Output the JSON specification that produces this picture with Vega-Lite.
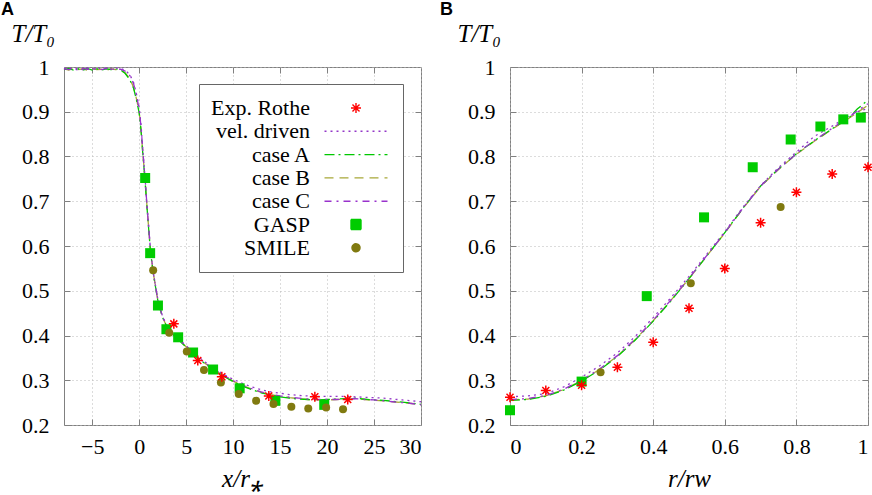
{
  "$schema": "https://vega.github.io/schema/vega-lite/v6.json",
  "background": "white",
  "padding": {"left": 0, "top": 0, "right": 4, "bottom": 0},
  "spacing": 14,
  "config": {
    "view": {"stroke": "#808080", "strokeWidth": 1},
    "axis": {
      "labelFont": "Liberation Serif", "labelFontSize": 22, "labelColor": "black",
      "titleFont": "Liberation Serif", "titleFontSize": 25, "titleFontStyle": "italic",
      "titleFontWeight": "normal", "titleColor": "black",
      "gridColor": "#b8b8b8", "gridDash": [1, 3], "gridWidth": 1,
      "tickColor": "#808080", "tickSize": -6, "domain": false
    },
    "title": {"font": "Liberation Sans", "fontSize": 18, "fontWeight": "bold", "color": "black", "anchor": "start", "frame": "group"}
  },
  "datasets": {
    "leftLines": [
      {"series": "case B", "x": -8, "y": 0.996}, {"series": "case B", "x": -7.5, "y": 0.993}, {"series": "case B", "x": -7, "y": 0.997},
      {"series": "case B", "x": -6.5, "y": 0.994}, {"series": "case B", "x": -6, "y": 0.996}, {"series": "case B", "x": -5.5, "y": 0.993},
      {"series": "case B", "x": -5, "y": 0.996}, {"series": "case B", "x": -4.5, "y": 0.994}, {"series": "case B", "x": -4, "y": 0.995},
      {"series": "case B", "x": -3.5, "y": 0.993}, {"series": "case B", "x": -3, "y": 0.996}, {"series": "case B", "x": -2.5, "y": 0.994},
      {"series": "case B", "x": -2, "y": 0.993}, {"series": "case B", "x": -1.5, "y": 0.987}, {"series": "case B", "x": -1, "y": 0.974},
      {"series": "case B", "x": -0.6, "y": 0.955}, {"series": "case B", "x": -0.3, "y": 0.93}, {"series": "case B", "x": 0, "y": 0.9},
      {"series": "case B", "x": 0.2, "y": 0.86}, {"series": "case B", "x": 0.4, "y": 0.805}, {"series": "case B", "x": 0.6, "y": 0.755},
      {"series": "case B", "x": 0.9, "y": 0.67}, {"series": "case B", "x": 1.2, "y": 0.59}, {"series": "case B", "x": 1.5, "y": 0.54},
      {"series": "case B", "x": 2, "y": 0.477}, {"series": "case B", "x": 2.5, "y": 0.44}, {"series": "case B", "x": 3, "y": 0.418},
      {"series": "case B", "x": 3.5, "y": 0.405}, {"series": "case B", "x": 4, "y": 0.395}, {"series": "case B", "x": 5, "y": 0.375},
      {"series": "case B", "x": 6, "y": 0.355}, {"series": "case B", "x": 7, "y": 0.338}, {"series": "case B", "x": 8, "y": 0.323},
      {"series": "case B", "x": 9, "y": 0.31}, {"series": "case B", "x": 10, "y": 0.298}, {"series": "case B", "x": 11, "y": 0.288},
      {"series": "case B", "x": 12, "y": 0.28}, {"series": "case B", "x": 13, "y": 0.273}, {"series": "case B", "x": 14, "y": 0.268},
      {"series": "case B", "x": 15, "y": 0.264}, {"series": "case B", "x": 16, "y": 0.261}, {"series": "case B", "x": 17, "y": 0.259},
      {"series": "case B", "x": 18, "y": 0.257}, {"series": "case B", "x": 19, "y": 0.256}, {"series": "case B", "x": 20, "y": 0.256},
      {"series": "case B", "x": 21, "y": 0.257}, {"series": "case B", "x": 22, "y": 0.258}, {"series": "case B", "x": 23, "y": 0.259},
      {"series": "case B", "x": 24, "y": 0.257}, {"series": "case B", "x": 25, "y": 0.255}, {"series": "case B", "x": 26, "y": 0.254},
      {"series": "case B", "x": 27, "y": 0.252}, {"series": "case B", "x": 28, "y": 0.25}, {"series": "case B", "x": 29, "y": 0.248},
      {"series": "case B", "x": 30, "y": 0.245},

      {"series": "case A", "x": -8, "y": 0.994}, {"series": "case A", "x": -7.5, "y": 0.997}, {"series": "case A", "x": -7, "y": 0.993},
      {"series": "case A", "x": -6.5, "y": 0.996}, {"series": "case A", "x": -6, "y": 0.993}, {"series": "case A", "x": -5.5, "y": 0.997},
      {"series": "case A", "x": -5, "y": 0.993}, {"series": "case A", "x": -4.5, "y": 0.996}, {"series": "case A", "x": -4, "y": 0.993},
      {"series": "case A", "x": -3.5, "y": 0.996}, {"series": "case A", "x": -3, "y": 0.994}, {"series": "case A", "x": -2.5, "y": 0.996},
      {"series": "case A", "x": -2, "y": 0.994}, {"series": "case A", "x": -1.5, "y": 0.986}, {"series": "case A", "x": -1, "y": 0.972},
      {"series": "case A", "x": -0.6, "y": 0.953}, {"series": "case A", "x": -0.3, "y": 0.928}, {"series": "case A", "x": 0, "y": 0.898},
      {"series": "case A", "x": 0.2, "y": 0.858}, {"series": "case A", "x": 0.4, "y": 0.803}, {"series": "case A", "x": 0.6, "y": 0.753},
      {"series": "case A", "x": 0.9, "y": 0.668}, {"series": "case A", "x": 1.2, "y": 0.589}, {"series": "case A", "x": 1.5, "y": 0.539},
      {"series": "case A", "x": 2, "y": 0.476}, {"series": "case A", "x": 2.5, "y": 0.44}, {"series": "case A", "x": 3, "y": 0.417},
      {"series": "case A", "x": 3.5, "y": 0.404}, {"series": "case A", "x": 4, "y": 0.394}, {"series": "case A", "x": 5, "y": 0.374},
      {"series": "case A", "x": 6, "y": 0.354}, {"series": "case A", "x": 7, "y": 0.337}, {"series": "case A", "x": 8, "y": 0.322},
      {"series": "case A", "x": 9, "y": 0.309}, {"series": "case A", "x": 10, "y": 0.297}, {"series": "case A", "x": 11, "y": 0.287},
      {"series": "case A", "x": 12, "y": 0.279}, {"series": "case A", "x": 13, "y": 0.272}, {"series": "case A", "x": 14, "y": 0.267},
      {"series": "case A", "x": 15, "y": 0.263}, {"series": "case A", "x": 16, "y": 0.26}, {"series": "case A", "x": 17, "y": 0.258},
      {"series": "case A", "x": 18, "y": 0.257}, {"series": "case A", "x": 19, "y": 0.256}, {"series": "case A", "x": 20, "y": 0.257},
      {"series": "case A", "x": 21, "y": 0.258}, {"series": "case A", "x": 22, "y": 0.259}, {"series": "case A", "x": 23, "y": 0.26},
      {"series": "case A", "x": 24, "y": 0.258}, {"series": "case A", "x": 25, "y": 0.256}, {"series": "case A", "x": 26, "y": 0.255},
      {"series": "case A", "x": 27, "y": 0.253}, {"series": "case A", "x": 28, "y": 0.251}, {"series": "case A", "x": 29, "y": 0.249},
      {"series": "case A", "x": 30, "y": 0.246},

      {"series": "case C", "x": -8, "y": 0.997}, {"series": "case C", "x": -7.5, "y": 0.994}, {"series": "case C", "x": -7, "y": 0.996},
      {"series": "case C", "x": -6.5, "y": 0.993}, {"series": "case C", "x": -6, "y": 0.997}, {"series": "case C", "x": -5.5, "y": 0.995},
      {"series": "case C", "x": -5, "y": 0.994}, {"series": "case C", "x": -4.5, "y": 0.997}, {"series": "case C", "x": -4, "y": 0.994},
      {"series": "case C", "x": -3.5, "y": 0.997}, {"series": "case C", "x": -3, "y": 0.994}, {"series": "case C", "x": -2.5, "y": 0.997},
      {"series": "case C", "x": -2, "y": 0.995}, {"series": "case C", "x": -1.5, "y": 0.991}, {"series": "case C", "x": -1, "y": 0.981},
      {"series": "case C", "x": -0.6, "y": 0.963}, {"series": "case C", "x": -0.3, "y": 0.938}, {"series": "case C", "x": 0, "y": 0.906},
      {"series": "case C", "x": 0.2, "y": 0.866}, {"series": "case C", "x": 0.4, "y": 0.81}, {"series": "case C", "x": 0.6, "y": 0.758},
      {"series": "case C", "x": 0.9, "y": 0.672}, {"series": "case C", "x": 1.2, "y": 0.592}, {"series": "case C", "x": 1.5, "y": 0.541},
      {"series": "case C", "x": 2, "y": 0.478}, {"series": "case C", "x": 2.5, "y": 0.441}, {"series": "case C", "x": 3, "y": 0.419},
      {"series": "case C", "x": 3.5, "y": 0.406}, {"series": "case C", "x": 4, "y": 0.396}, {"series": "case C", "x": 5, "y": 0.376},
      {"series": "case C", "x": 6, "y": 0.356}, {"series": "case C", "x": 7, "y": 0.339}, {"series": "case C", "x": 8, "y": 0.324},
      {"series": "case C", "x": 9, "y": 0.311}, {"series": "case C", "x": 10, "y": 0.299}, {"series": "case C", "x": 11, "y": 0.289},
      {"series": "case C", "x": 12, "y": 0.281}, {"series": "case C", "x": 13, "y": 0.274}, {"series": "case C", "x": 14, "y": 0.269},
      {"series": "case C", "x": 15, "y": 0.265}, {"series": "case C", "x": 16, "y": 0.262}, {"series": "case C", "x": 17, "y": 0.26},
      {"series": "case C", "x": 18, "y": 0.258}, {"series": "case C", "x": 19, "y": 0.257}, {"series": "case C", "x": 20, "y": 0.257},
      {"series": "case C", "x": 21, "y": 0.257}, {"series": "case C", "x": 22, "y": 0.258}, {"series": "case C", "x": 23, "y": 0.259},
      {"series": "case C", "x": 24, "y": 0.257}, {"series": "case C", "x": 25, "y": 0.256}, {"series": "case C", "x": 26, "y": 0.254},
      {"series": "case C", "x": 27, "y": 0.252}, {"series": "case C", "x": 28, "y": 0.25}, {"series": "case C", "x": 29, "y": 0.248},
      {"series": "case C", "x": 30, "y": 0.245},

      {"series": "vel. driven", "x": -8, "y": 0.995}, {"series": "vel. driven", "x": -7.5, "y": 0.998}, {"series": "vel. driven", "x": -7, "y": 0.995},
      {"series": "vel. driven", "x": -6.5, "y": 0.998}, {"series": "vel. driven", "x": -6, "y": 0.994}, {"series": "vel. driven", "x": -5.5, "y": 0.998},
      {"series": "vel. driven", "x": -5, "y": 0.995}, {"series": "vel. driven", "x": -4.5, "y": 0.998}, {"series": "vel. driven", "x": -4, "y": 0.996},
      {"series": "vel. driven", "x": -3.5, "y": 0.998}, {"series": "vel. driven", "x": -3, "y": 0.995}, {"series": "vel. driven", "x": -2.5, "y": 0.998},
      {"series": "vel. driven", "x": -2, "y": 0.997}, {"series": "vel. driven", "x": -1.5, "y": 0.993}, {"series": "vel. driven", "x": -1, "y": 0.983},
      {"series": "vel. driven", "x": -0.6, "y": 0.966}, {"series": "vel. driven", "x": -0.3, "y": 0.941}, {"series": "vel. driven", "x": 0, "y": 0.91},
      {"series": "vel. driven", "x": 0.2, "y": 0.87}, {"series": "vel. driven", "x": 0.4, "y": 0.813}, {"series": "vel. driven", "x": 0.6, "y": 0.76},
      {"series": "vel. driven", "x": 0.9, "y": 0.673}, {"series": "vel. driven", "x": 1.2, "y": 0.593}, {"series": "vel. driven", "x": 1.5, "y": 0.542},
      {"series": "vel. driven", "x": 2, "y": 0.479}, {"series": "vel. driven", "x": 2.5, "y": 0.442}, {"series": "vel. driven", "x": 3, "y": 0.42},
      {"series": "vel. driven", "x": 3.5, "y": 0.407}, {"series": "vel. driven", "x": 4, "y": 0.397}, {"series": "vel. driven", "x": 5, "y": 0.377},
      {"series": "vel. driven", "x": 6, "y": 0.358}, {"series": "vel. driven", "x": 7, "y": 0.341}, {"series": "vel. driven", "x": 8, "y": 0.326},
      {"series": "vel. driven", "x": 9, "y": 0.313}, {"series": "vel. driven", "x": 10, "y": 0.302}, {"series": "vel. driven", "x": 11, "y": 0.293},
      {"series": "vel. driven", "x": 12, "y": 0.285}, {"series": "vel. driven", "x": 13, "y": 0.279}, {"series": "vel. driven", "x": 14, "y": 0.274},
      {"series": "vel. driven", "x": 15, "y": 0.271}, {"series": "vel. driven", "x": 16, "y": 0.268}, {"series": "vel. driven", "x": 17, "y": 0.266},
      {"series": "vel. driven", "x": 18, "y": 0.265}, {"series": "vel. driven", "x": 19, "y": 0.264}, {"series": "vel. driven", "x": 20, "y": 0.264},
      {"series": "vel. driven", "x": 21, "y": 0.264}, {"series": "vel. driven", "x": 22, "y": 0.264}, {"series": "vel. driven", "x": 23, "y": 0.263},
      {"series": "vel. driven", "x": 24, "y": 0.262}, {"series": "vel. driven", "x": 25, "y": 0.261}, {"series": "vel. driven", "x": 26, "y": 0.26},
      {"series": "vel. driven", "x": 27, "y": 0.258}, {"series": "vel. driven", "x": 28, "y": 0.256}, {"series": "vel. driven", "x": 29, "y": 0.254},
      {"series": "vel. driven", "x": 30, "y": 0.252}
    ],
    "leftPts": [
      {"series": "GASP", "x": 0.64, "y": 0.752}, {"series": "GASP", "x": 1.17, "y": 0.584}, {"series": "GASP", "x": 2.0, "y": 0.467},
      {"series": "GASP", "x": 2.9, "y": 0.414}, {"series": "GASP", "x": 4.15, "y": 0.396}, {"series": "GASP", "x": 5.74, "y": 0.362},
      {"series": "GASP", "x": 7.87, "y": 0.324}, {"series": "GASP", "x": 10.7, "y": 0.282}, {"series": "GASP", "x": 14.5, "y": 0.254},
      {"series": "GASP", "x": 19.7, "y": 0.245},
      {"series": "SMILE", "x": 1.49, "y": 0.546}, {"series": "SMILE", "x": 3.2, "y": 0.406}, {"series": "SMILE", "x": 5.07, "y": 0.364},
      {"series": "SMILE", "x": 6.9, "y": 0.323}, {"series": "SMILE", "x": 8.7, "y": 0.295}, {"series": "SMILE", "x": 10.6, "y": 0.269},
      {"series": "SMILE", "x": 12.45, "y": 0.254}, {"series": "SMILE", "x": 14.3, "y": 0.247}, {"series": "SMILE", "x": 16.2, "y": 0.241},
      {"series": "SMILE", "x": 18.0, "y": 0.237}, {"series": "SMILE", "x": 19.9, "y": 0.239}, {"series": "SMILE", "x": 21.7, "y": 0.235},
      {"series": "Exp. Rothe", "x": 3.69, "y": 0.426}, {"series": "Exp. Rothe", "x": 6.24, "y": 0.344}, {"series": "Exp. Rothe", "x": 8.8, "y": 0.308},
      {"series": "Exp. Rothe", "x": 13.8, "y": 0.265}, {"series": "Exp. Rothe", "x": 18.7, "y": 0.263}, {"series": "Exp. Rothe", "x": 22.2, "y": 0.257}
    ],
    "rightLines": [
      {"series": "case B", "x": 0, "y": 0.256}, {"series": "case B", "x": 0.05, "y": 0.258}, {"series": "case B", "x": 0.1, "y": 0.265},
      {"series": "case B", "x": 0.15, "y": 0.279}, {"series": "case B", "x": 0.2, "y": 0.299}, {"series": "case B", "x": 0.25, "y": 0.324},
      {"series": "case B", "x": 0.3, "y": 0.354}, {"series": "case B", "x": 0.35, "y": 0.391}, {"series": "case B", "x": 0.4, "y": 0.433},
      {"series": "case B", "x": 0.45, "y": 0.479}, {"series": "case B", "x": 0.5, "y": 0.527}, {"series": "case B", "x": 0.55, "y": 0.578},
      {"series": "case B", "x": 0.6, "y": 0.629}, {"series": "case B", "x": 0.65, "y": 0.683}, {"series": "case B", "x": 0.7, "y": 0.733},
      {"series": "case B", "x": 0.75, "y": 0.771}, {"series": "case B", "x": 0.8, "y": 0.805}, {"series": "case B", "x": 0.85, "y": 0.834},
      {"series": "case B", "x": 0.9, "y": 0.861}, {"series": "case B", "x": 0.95, "y": 0.887}, {"series": "case B", "x": 0.97, "y": 0.898},
      {"series": "case B", "x": 1.0, "y": 0.915},
      {"series": "case A", "x": 0, "y": 0.255}, {"series": "case A", "x": 0.05, "y": 0.257}, {"series": "case A", "x": 0.1, "y": 0.264},
      {"series": "case A", "x": 0.15, "y": 0.278}, {"series": "case A", "x": 0.2, "y": 0.298}, {"series": "case A", "x": 0.25, "y": 0.323},
      {"series": "case A", "x": 0.3, "y": 0.353}, {"series": "case A", "x": 0.35, "y": 0.39}, {"series": "case A", "x": 0.4, "y": 0.432},
      {"series": "case A", "x": 0.45, "y": 0.478}, {"series": "case A", "x": 0.5, "y": 0.527}, {"series": "case A", "x": 0.55, "y": 0.578},
      {"series": "case A", "x": 0.6, "y": 0.63}, {"series": "case A", "x": 0.65, "y": 0.684}, {"series": "case A", "x": 0.7, "y": 0.734},
      {"series": "case A", "x": 0.75, "y": 0.772}, {"series": "case A", "x": 0.8, "y": 0.806}, {"series": "case A", "x": 0.85, "y": 0.835},
      {"series": "case A", "x": 0.9, "y": 0.862}, {"series": "case A", "x": 0.95, "y": 0.889}, {"series": "case A", "x": 0.97, "y": 0.906},
      {"series": "case A", "x": 1.0, "y": 0.926},
      {"series": "case C", "x": 0, "y": 0.257}, {"series": "case C", "x": 0.05, "y": 0.259}, {"series": "case C", "x": 0.1, "y": 0.266},
      {"series": "case C", "x": 0.15, "y": 0.28}, {"series": "case C", "x": 0.2, "y": 0.3}, {"series": "case C", "x": 0.25, "y": 0.325},
      {"series": "case C", "x": 0.3, "y": 0.355}, {"series": "case C", "x": 0.35, "y": 0.392}, {"series": "case C", "x": 0.4, "y": 0.434},
      {"series": "case C", "x": 0.45, "y": 0.48}, {"series": "case C", "x": 0.5, "y": 0.528}, {"series": "case C", "x": 0.55, "y": 0.579},
      {"series": "case C", "x": 0.6, "y": 0.63}, {"series": "case C", "x": 0.65, "y": 0.684}, {"series": "case C", "x": 0.7, "y": 0.734},
      {"series": "case C", "x": 0.75, "y": 0.772}, {"series": "case C", "x": 0.8, "y": 0.806}, {"series": "case C", "x": 0.85, "y": 0.836},
      {"series": "case C", "x": 0.9, "y": 0.863}, {"series": "case C", "x": 0.95, "y": 0.89}, {"series": "case C", "x": 0.97, "y": 0.902},
      {"series": "case C", "x": 1.0, "y": 0.918},
      {"series": "vel. driven", "x": 0, "y": 0.263}, {"series": "vel. driven", "x": 0.05, "y": 0.265}, {"series": "vel. driven", "x": 0.1, "y": 0.27},
      {"series": "vel. driven", "x": 0.15, "y": 0.285}, {"series": "vel. driven", "x": 0.2, "y": 0.307}, {"series": "vel. driven", "x": 0.25, "y": 0.332},
      {"series": "vel. driven", "x": 0.3, "y": 0.361}, {"series": "vel. driven", "x": 0.35, "y": 0.398}, {"series": "vel. driven", "x": 0.4, "y": 0.44},
      {"series": "vel. driven", "x": 0.45, "y": 0.485}, {"series": "vel. driven", "x": 0.5, "y": 0.532}, {"series": "vel. driven", "x": 0.55, "y": 0.582},
      {"series": "vel. driven", "x": 0.6, "y": 0.632}, {"series": "vel. driven", "x": 0.65, "y": 0.686}, {"series": "vel. driven", "x": 0.7, "y": 0.735},
      {"series": "vel. driven", "x": 0.75, "y": 0.775}, {"series": "vel. driven", "x": 0.8, "y": 0.81}, {"series": "vel. driven", "x": 0.85, "y": 0.845},
      {"series": "vel. driven", "x": 0.9, "y": 0.868}, {"series": "vel. driven", "x": 0.95, "y": 0.892}, {"series": "vel. driven", "x": 0.97, "y": 0.9},
      {"series": "vel. driven", "x": 1.0, "y": 0.907}
    ],
    "rightPts": [
      {"series": "SMILE", "x": 0, "y": 0.232}, {"series": "SMILE", "x": 0.253, "y": 0.318}, {"series": "SMILE", "x": 0.505, "y": 0.517},
      {"series": "SMILE", "x": 0.756, "y": 0.687},
      {"series": "GASP", "x": 0, "y": 0.233}, {"series": "GASP", "x": 0.2, "y": 0.297}, {"series": "GASP", "x": 0.382, "y": 0.488},
      {"series": "GASP", "x": 0.542, "y": 0.664}, {"series": "GASP", "x": 0.678, "y": 0.776}, {"series": "GASP", "x": 0.784, "y": 0.838},
      {"series": "GASP", "x": 0.867, "y": 0.867}, {"series": "GASP", "x": 0.931, "y": 0.883}, {"series": "GASP", "x": 0.98, "y": 0.887},
      {"series": "Exp. Rothe", "x": 0, "y": 0.262}, {"series": "Exp. Rothe", "x": 0.1, "y": 0.277}, {"series": "Exp. Rothe", "x": 0.2, "y": 0.289},
      {"series": "Exp. Rothe", "x": 0.3, "y": 0.329}, {"series": "Exp. Rothe", "x": 0.4, "y": 0.385}, {"series": "Exp. Rothe", "x": 0.5, "y": 0.461},
      {"series": "Exp. Rothe", "x": 0.6, "y": 0.55}, {"series": "Exp. Rothe", "x": 0.7, "y": 0.652}, {"series": "Exp. Rothe", "x": 0.8, "y": 0.72},
      {"series": "Exp. Rothe", "x": 0.9, "y": 0.761}, {"series": "Exp. Rothe", "x": 1.0, "y": 0.776}
    ]
  },
  "resolve": {"scale": {"color": "independent"}, "legend": {"color": "independent"}},
  "hconcat": [
    {
      "width": 357,
      "height": 358,
      "title": {"text": "A", "dx": -63, "offset": 2},
      "resolve": {"axis": {"x": "independent", "y": "independent"}},
      "layer": [
        {
          "data": {"name": "leftLines"},
          "mark": {"type": "line", "strokeWidth": 1.3, "clip": false},
          "encoding": {
            "x": {"field": "x", "type": "quantitative", "scale": {"domain": [-8, 30], "nice": false, "zero": false},
                  "axis": {"orient": "bottom", "values": [-5, 0, 5, 10, 15, 20, 25, 30], "title": "x/r⁎", "labelPadding": 17, "titlePadding": 9}},
            "y": {"field": "y", "type": "quantitative", "scale": {"domain": [0.2, 1], "nice": false, "zero": false},
                  "axis": {"orient": "left", "values": [0.2, 0.3, 0.4, 0.5, 0.6, 0.7, 0.8, 0.9, 1], "format": "~g", "labelPadding": 21,
                           "title": "T/T₀", "titleAngle": 0, "titleAlign": "left", "titleBaseline": "alphabetic", "titleX": -53, "titleY": -26}},
            "color": {"field": "series", "type": "nominal",
              "scale": {"domain": ["Exp. Rothe", "vel. driven", "case A", "case B", "case C", "GASP", "SMILE"],
                        "range": ["#ff0000", "#9438c8", "#00c800", "#a8a838", "#9932cc", "#00cc00", "#807a10"]},
              "legend": {
                "title": null, "orient": "none", "legendX": 135, "legendY": 17, "direction": "vertical",
                "padding": 13, "strokeColor": "#666666", "fillColor": "white", "cornerRadius": 0,
                "clipHeight": 22, "rowPadding": 1.3, "symbolSize": 100,
                "labelFont": "Liberation Serif", "labelFontSize": 22, "labelColor": "black", "labelLimit": 0,
                "encode": {
                  "entries": {"update": {"width": {"value": 178}}},
                  "labels": {"update": {"x": {"value": 98}, "align": {"value": "right"}}},
                  "symbols": {"update": {
                    "x": {"value": 144},
                    "shape": {"signal": "datum.value === 'Exp. Rothe' ? 'M-1,0L1,0M0,-1L0,1M-0.7,-0.7L0.7,0.7M-0.7,0.7L0.7,-0.7' : datum.value === 'GASP' ? 'square' : datum.value === 'SMILE' ? 'circle' : 'M-1,0L1,0'"},
                    "size": {"signal": "datum.value === 'Exp. Rothe' ? 100 : datum.value === 'GASP' ? 100 : datum.value === 'SMILE' ? 64 : 3969"},
                    "fill": {"signal": "datum.value === 'GASP' ? '#00cc00' : datum.value === 'SMILE' ? '#807a10' : 'transparent'"},
                    "stroke": {"signal": "datum.value === 'Exp. Rothe' ? '#ff0000' : datum.value === 'vel. driven' ? '#9438c8' : datum.value === 'case A' ? '#00c800' : datum.value === 'case B' ? '#a8a838' : datum.value === 'case C' ? '#9932cc' : 'transparent'"},
                    "strokeDash": {"signal": "datum.value === 'vel. driven' ? [2, 4] : datum.value === 'case A' ? [10, 4, 2, 4] : datum.value === 'case B' ? [9, 6] : datum.value === 'case C' ? [7, 5, 2, 5] : [1, 0]"},
                    "strokeWidth": {"value": 1.4},
                    "opacity": {"value": 1}
                  }}
                }
              }},
            "strokeDash": {"field": "series", "type": "nominal", "legend": null,
              "scale": {"domain": ["vel. driven", "case A", "case B", "case C"], "range": [[2, 4], [10, 4, 2, 4], [9, 6], [7, 5, 2, 5]]}}
          }
        },
        {
          "data": {"name": "leftPts"},
          "transform": [{"filter": "datum.series !== 'Exp. Rothe'"}],
          "mark": {"type": "point", "filled": true, "opacity": 1, "clip": false},
          "encoding": {
            "x": {"field": "x", "type": "quantitative",
                  "axis": {"orient": "top", "values": [-5, 0, 5, 10, 15, 20, 25], "labels": false, "grid": false, "title": null}},
            "y": {"field": "y", "type": "quantitative",
                  "axis": {"orient": "right", "values": [0.3, 0.4, 0.5, 0.6, 0.7, 0.8, 0.9], "labels": false, "grid": false, "title": null}},
            "color": {"field": "series", "type": "nominal", "legend": null},
            "shape": {"field": "series", "type": "nominal", "legend": null, "scale": {"domain": ["GASP", "SMILE"], "range": ["square", "circle"]}},
            "size": {"field": "series", "type": "nominal", "legend": null, "scale": {"domain": ["GASP", "SMILE"], "range": [100, 64]}}
          }
        },
        {
          "data": {"name": "leftPts"},
          "transform": [{"filter": "datum.series === 'Exp. Rothe'"}],
          "mark": {"type": "point", "filled": false, "opacity": 1, "strokeWidth": 1.5, "size": 100, "clip": false,
                   "shape": "M-1,0L1,0M0,-1L0,1M-0.7,-0.7L0.7,0.7M-0.7,0.7L0.7,-0.7"},
          "encoding": {
            "x": {"field": "x", "type": "quantitative", "axis": null},
            "y": {"field": "y", "type": "quantitative", "axis": null},
            "color": {"field": "series", "type": "nominal", "legend": null}
          }
        }
      ]
    },
    {
      "width": 358,
      "height": 358,
      "title": {"text": "B", "dx": -70, "offset": 2},
      "resolve": {"axis": {"x": "independent", "y": "independent"}},
      "layer": [
        {
          "data": {"name": "rightLines"},
          "mark": {"type": "line", "strokeWidth": 1.3, "clip": false},
          "encoding": {
            "x": {"field": "x", "type": "quantitative", "scale": {"domain": [0, 1], "nice": false, "zero": false},
                  "axis": {"orient": "bottom", "values": [0, 0.2, 0.4, 0.6, 0.8, 1], "format": "~g", "title": "r/rw", "labelPadding": 17, "titlePadding": 9}},
            "y": {"field": "y", "type": "quantitative", "scale": {"domain": [0.2, 1], "nice": false, "zero": false},
                  "axis": {"orient": "left", "values": [0.2, 0.3, 0.4, 0.5, 0.6, 0.7, 0.8, 0.9, 1], "format": "~g", "labelPadding": 21,
                           "title": "T/T₀", "titleAngle": 0, "titleAlign": "left", "titleBaseline": "alphabetic", "titleX": -53, "titleY": -26}},
            "color": {"field": "series", "type": "nominal", "legend": null,
              "scale": {"domain": ["Exp. Rothe", "vel. driven", "case A", "case B", "case C", "GASP", "SMILE"],
                        "range": ["#ff0000", "#9438c8", "#00c800", "#a8a838", "#9932cc", "#00cc00", "#807a10"]}},
            "strokeDash": {"field": "series", "type": "nominal", "legend": null,
              "scale": {"domain": ["vel. driven", "case A", "case B", "case C"], "range": [[2, 4], [10, 4, 2, 4], [9, 6], [7, 5, 2, 5]]}}
          }
        },
        {
          "data": {"name": "rightPts"},
          "transform": [{"filter": "datum.series !== 'Exp. Rothe'"}],
          "mark": {"type": "point", "filled": true, "opacity": 1, "clip": false},
          "encoding": {
            "x": {"field": "x", "type": "quantitative",
                  "axis": {"orient": "top", "values": [0.2, 0.4, 0.6, 0.8], "labels": false, "grid": false, "title": null}},
            "y": {"field": "y", "type": "quantitative",
                  "axis": {"orient": "right", "values": [0.3, 0.4, 0.5, 0.6, 0.7, 0.8, 0.9], "labels": false, "grid": false, "title": null}},
            "color": {"field": "series", "type": "nominal", "legend": null},
            "shape": {"field": "series", "type": "nominal", "legend": null, "scale": {"domain": ["GASP", "SMILE"], "range": ["square", "circle"]}},
            "size": {"field": "series", "type": "nominal", "legend": null, "scale": {"domain": ["GASP", "SMILE"], "range": [100, 64]}}
          }
        },
        {
          "data": {"name": "rightPts"},
          "transform": [{"filter": "datum.series === 'Exp. Rothe'"}],
          "mark": {"type": "point", "filled": false, "opacity": 1, "strokeWidth": 1.5, "size": 100, "clip": false,
                   "shape": "M-1,0L1,0M0,-1L0,1M-0.7,-0.7L0.7,0.7M-0.7,0.7L0.7,-0.7"},
          "encoding": {
            "x": {"field": "x", "type": "quantitative", "axis": null},
            "y": {"field": "y", "type": "quantitative", "axis": null},
            "color": {"field": "series", "type": "nominal", "legend": null}
          }
        }
      ]
    }
  ]
}
